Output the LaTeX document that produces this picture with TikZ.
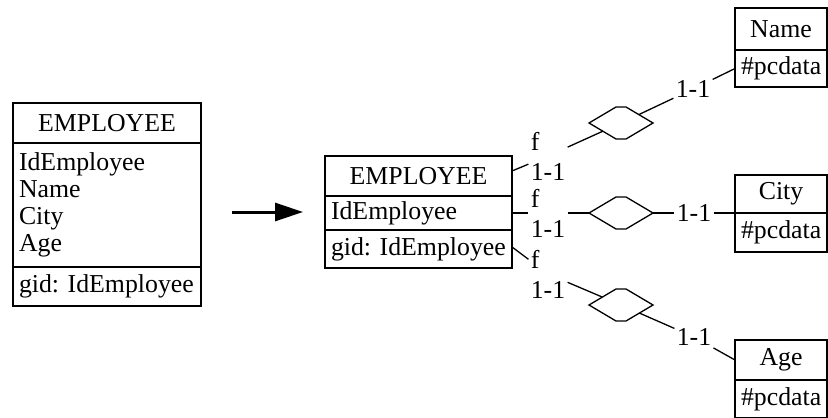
\documentclass[tikz,border=0pt]{standalone}
\usepackage{fontspec}
\setmainfont{Liberation Serif}
\usetikzlibrary{positioning,shapes.geometric,arrows.meta}

\begin{document}
\begin{tikzpicture}[x=0.5pt, y=-0.5pt,
  every node/.style={font=\fontsize{12.9}{13.6}\selectfont\frenchspacing},
  ln/.style={line width=0.65pt},
  hd/.style={draw, ln, outer sep=0pt, inner sep=0pt, minimum width=#1},
  rw/.style={draw, ln, outer sep=0pt, inner xsep=3pt, inner ysep=0pt, align=left, text width=#1},
  rel/.style={diamond, minimum width=32pt, minimum height=19pt, inner sep=0pt, outer sep=0pt},
  card/.style={align=left, inner sep=1pt, font=\fontsize{12.9}{15}\selectfont},
  >={Triangle[length=14pt, width=9pt]}
]
\useasboundingbox (0,0) rectangle (828,417);
\clip (0,0) rectangle (828,417);

% source entity
\node[hd=94pt, minimum height=20pt] (e1) at (107,123) {EMPLOYEE};
\node[rw=88pt, minimum height=62pt, below=0pt of e1] (e1at) {IdEmployee\\Name\\City\\Age};
\node[rw=88pt, minimum height=19.5pt, below=0pt of e1at] (e1id) {\mbox{gid: IdEmployee}};

\coordinate (aS) at (232,212);
\coordinate (aE) at (303,212);
\draw[->, line width=1.5pt] (aS) -- (aE);

% target entity
\node[hd=93.5pt, minimum height=20pt] (e2) at (418.5,176) {EMPLOYEE};
\node[rw=87.5pt, minimum height=17pt, below=0pt of e2] (e2id) {IdEmployee};
\node[rw=87.5pt, minimum height=19pt, below=0pt of e2id] (e2gid) {\mbox{gid: IdEmployee}};

% attribute entities
\node[hd=46pt, minimum height=21pt] (nm) at (781,29) {Name};
\node[rw=40pt, minimum height=18.5pt, below=0pt of nm] (nmd) {\#pcdata};
\node[hd=46pt, minimum height=19pt] (ct) at (781,194) {City};
\node[rw=40pt, minimum height=19.5pt, below=0pt of ct] (ctd) {\#pcdata};
\node[hd=46pt, minimum height=20pt] (ag) at (781,360) {Age};
\node[rw=40pt, minimum height=19pt, below=0pt of ag] (agd) {\#pcdata};

% relationships
\node[rel] (d1) at (621,123) {};
\node[rel] (d2) at (621,213) {};
\node[rel] (d3) at (621,305) {};
\foreach \d in {d1,d2,d3}
  \draw[ln, shift={(\d.center)}] (-32,0) -- (-5,-16) -- (5,-16) -- (32,0) -- (5,16) -- (-5,16) -- cycle;

% cardinalities
\node[card] (c1) at (548,156) {f\\1-1};
\node[card] (c2) at (548,213) {f\\1-1};
\node[card] (c3) at (548,274) {f\\1-1};
\node[card] (c4) at (693,89) {1-1};
\node[card] (c5) at (694,213) {1-1};
\node[card] (c6) at (694,337) {1-1};

\draw[ln] ([yshift=2.5pt]e2.east) -- (c1) -- (d1) -- (c4) -- (nmd.west);
\draw[ln] (e2id.east) -- (c2) -- (d2) -- (c5) -- (ct.south west);
\draw[ln] ([yshift=1pt]e2gid.east) -- (c3) -- (d3) -- (c6) -- (ag.west);

\end{tikzpicture}
\end{document}
